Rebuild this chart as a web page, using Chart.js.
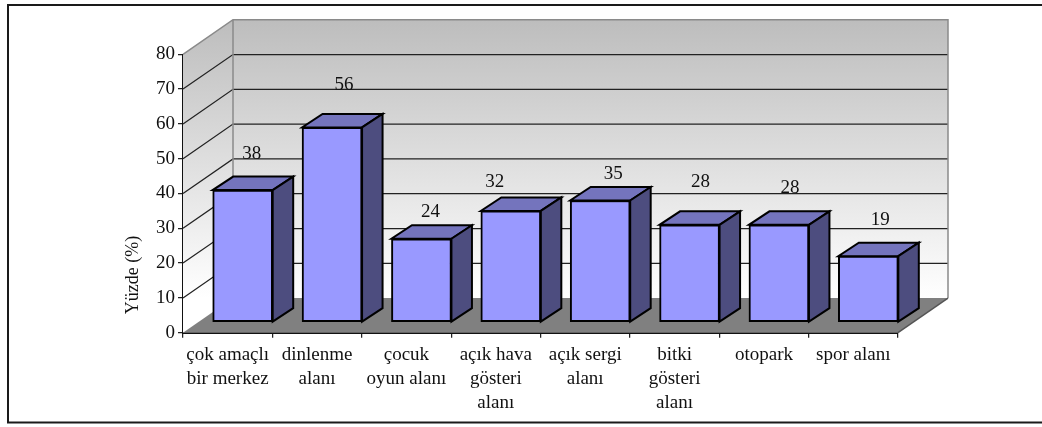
<!DOCTYPE html>
<html lang="en">
<head>
  <meta charset="UTF-8">
  <title>Yüzde</title>
  <script src="https://cdn.jsdelivr.net/npm/chart.js@4.4.0/dist/chart.umd.min.js"></script>
  <style>
    html, body { margin: 0; padding: 0; background: #fff; overflow: hidden; }
    #wrap { position: relative; width: 1042px; height: 427px; }
  </style>
</head>
<body>
  <div id="wrap"><canvas id="chart" width="1042" height="427"></canvas></div>

  <script>
    const categories = [
      ['çok amaçlı', 'bir merkez'],
      ['dinlenme', 'alanı'],
      ['çocuk', 'oyun alanı'],
      ['açık hava', 'gösteri', 'alanı'],
      ['açık sergi', 'alanı'],
      ['bitki', 'gösteri', 'alanı'],
      ['otopark'],
      ['spor alanı']
    ];
    const values = [38, 56, 24, 32, 35, 28, 28, 19];
    const yTicks = [0, 10, 20, 30, 40, 50, 60, 70, 80];

    // where the value labels sit relative to the top of each bar
    const labelDx = [9, 12, 9, -16, 13, 11, 11, 12];
    const labelLift = [36, 42, 27, 29, 26, 43, 37, 36];

    const FONT = '"Liberation Serif", "Times New Roman", serif';
    const WALL_DX = 50, WALL_DY = 34.6;   // depth of the box
    const BAR_DX = 15, BAR_DY = 10.4;     // bars stand a bit into the box
    const SIDE_DX = 20.5, SIDE_DY = 13.5; // depth of one bar

    function poly(ctx, pts) {
      ctx.beginPath();
      pts.forEach((p, i) => i ? ctx.lineTo(p[0], p[1]) : ctx.moveTo(p[0], p[1]));
      ctx.closePath();
    }

    const box3d = {
      id: 'box3d',
      beforeDatasetsDraw(chart) {
        const { ctx, chartArea: a, scales: { y } } = chart;
        const g = ctx.createLinearGradient(0, a.top - WALL_DY, 0, a.bottom - WALL_DY);
        g.addColorStop(0, '#bdbdbd');
        g.addColorStop(1, '#ffffff');

        ctx.save();
        // frame, open on the right
        ctx.strokeStyle = '#1a1a1a';
        ctx.lineWidth = 2;
        ctx.beginPath();
        ctx.moveTo(1042, 5);
        ctx.lineTo(8, 5);
        ctx.lineTo(8, 422.5);
        ctx.lineTo(1042, 422.5);
        ctx.stroke();

        // back wall and left wall
        ctx.fillStyle = g;
        poly(ctx, [[a.left + WALL_DX, a.top - WALL_DY], [a.right + WALL_DX, a.top - WALL_DY],
                   [a.right + WALL_DX, a.bottom - WALL_DY], [a.left + WALL_DX, a.bottom - WALL_DY]]);
        ctx.fill();
        poly(ctx, [[a.left, a.top], [a.left + WALL_DX, a.top - WALL_DY],
                   [a.left + WALL_DX, a.bottom - WALL_DY], [a.left, a.bottom]]);
        ctx.fill();

        // floor
        ctx.fillStyle = '#808080';
        poly(ctx, [[a.left, a.bottom], [a.right, a.bottom],
                   [a.right + WALL_DX, a.bottom - WALL_DY], [a.left + WALL_DX, a.bottom - WALL_DY]]);
        ctx.fill();

        // grid lines over both walls
        ctx.strokeStyle = '#222';
        ctx.lineWidth = 1.25;
        yTicks.slice(1, -1).forEach(v => {
          const py = y.getPixelForValue(v);
          ctx.beginPath();
          ctx.moveTo(a.left, py);
          ctx.lineTo(a.left + WALL_DX, py - WALL_DY);
          ctx.lineTo(a.right + WALL_DX, py - WALL_DY);
          ctx.stroke();
        });

        // wall outlines
        ctx.strokeStyle = '#8a8a8a';
        ctx.lineWidth = 1.5;
        ctx.beginPath();
        ctx.moveTo(a.left, a.top);
        ctx.lineTo(a.left + WALL_DX, a.top - WALL_DY);
        ctx.lineTo(a.right + WALL_DX, a.top - WALL_DY);
        ctx.lineTo(a.right + WALL_DX, a.bottom - WALL_DY);
        ctx.moveTo(a.left + WALL_DX, a.top - WALL_DY);
        ctx.lineTo(a.left + WALL_DX, a.bottom - WALL_DY);
        ctx.stroke();
        ctx.strokeStyle = '#555';
        ctx.beginPath();
        ctx.moveTo(a.right, a.bottom);
        ctx.lineTo(a.right + WALL_DX, a.bottom - WALL_DY);
        ctx.stroke();
        ctx.restore();

        // bars are drawn shifted into the box, restored in afterDatasetsDraw
        ctx.save();
        ctx.translate(BAR_DX, -BAR_DY);
        ctx.strokeStyle = '#000';
        ctx.lineWidth = 2;
        ctx.lineJoin = 'miter';
        chart.getDatasetMeta(0).data.forEach(bar => {
          const l = bar.x - bar.width / 2, r = bar.x + bar.width / 2;
          ctx.fillStyle = '#7474bd';
          poly(ctx, [[l, bar.y], [r, bar.y], [r + SIDE_DX, bar.y - SIDE_DY], [l + SIDE_DX, bar.y - SIDE_DY]]);
          ctx.fill();
          ctx.stroke();
          ctx.fillStyle = '#4d4d7f';
          poly(ctx, [[r, bar.y], [r + SIDE_DX, bar.y - SIDE_DY], [r + SIDE_DX, bar.base - SIDE_DY], [r, bar.base]]);
          ctx.fill();
          ctx.stroke();
        });
      },
      afterDatasetsDraw(chart) {
        const { ctx, chartArea: a } = chart;
        ctx.restore();

        ctx.save();
        ctx.fillStyle = '#111';
        ctx.font = '19px ' + FONT;
        ctx.textAlign = 'center';
        ctx.textBaseline = 'middle';
        chart.getDatasetMeta(0).data.forEach((bar, i) => {
          ctx.fillText(String(values[i]), bar.x + BAR_DX + labelDx[i], bar.y - BAR_DY - labelLift[i]);
        });

        // axis title sits low on the axis in the original
        ctx.font = '18px ' + FONT;
        ctx.translate(133, 275);
        ctx.rotate(-Math.PI / 2);
        ctx.fillText('Yüzde (%)', 0, 0);
        ctx.restore();
      }
    };

    new Chart(document.getElementById('chart'), {
      type: 'bar',
      data: {
        labels: categories,
        datasets: [{
          data: values,
          backgroundColor: '#9999ff',
          borderColor: '#000',
          borderWidth: 2,
          borderSkipped: false,
          barThickness: 60,
          clip: false
        }]
      },
      options: {
        responsive: false,
        animation: false,
        layout: { padding: { left: 0, right: 144, top: 54.3, bottom: 0 } },
        plugins: {
          legend: { display: false },
          title: { display: false },
          tooltip: { enabled: false }
        },
        scales: {
          x: {
            offset: true,
            afterFit: s => { s.height = 427 - 332.7; },
            grid: { offset: true, drawOnChartArea: false, tickLength: 5, color: '#222', lineWidth: 1.25 },
            border: { color: '#111', width: 2 },
            ticks: {
              color: '#111',
              maxRotation: 0,
              autoSkip: false,
              padding: 5,
              font: { family: FONT, size: 19, lineHeight: 1.263 }
            }
          },
          y: {
            min: 0,
            max: 80,
            afterFit: s => { s.width = 183; },
            afterBuildTicks: s => { s.ticks = yTicks.map(v => ({ value: v })); },
            grid: { drawOnChartArea: false, tickLength: 5, color: '#222', lineWidth: 1.25 },
            border: { color: '#111', width: 1.5 },
            ticks: {
              color: '#111',
              padding: 3,
              font: { family: FONT, size: 19 }
            }
          }
        }
      },
      plugins: [box3d]
    });
  </script>
</body>
</html>
